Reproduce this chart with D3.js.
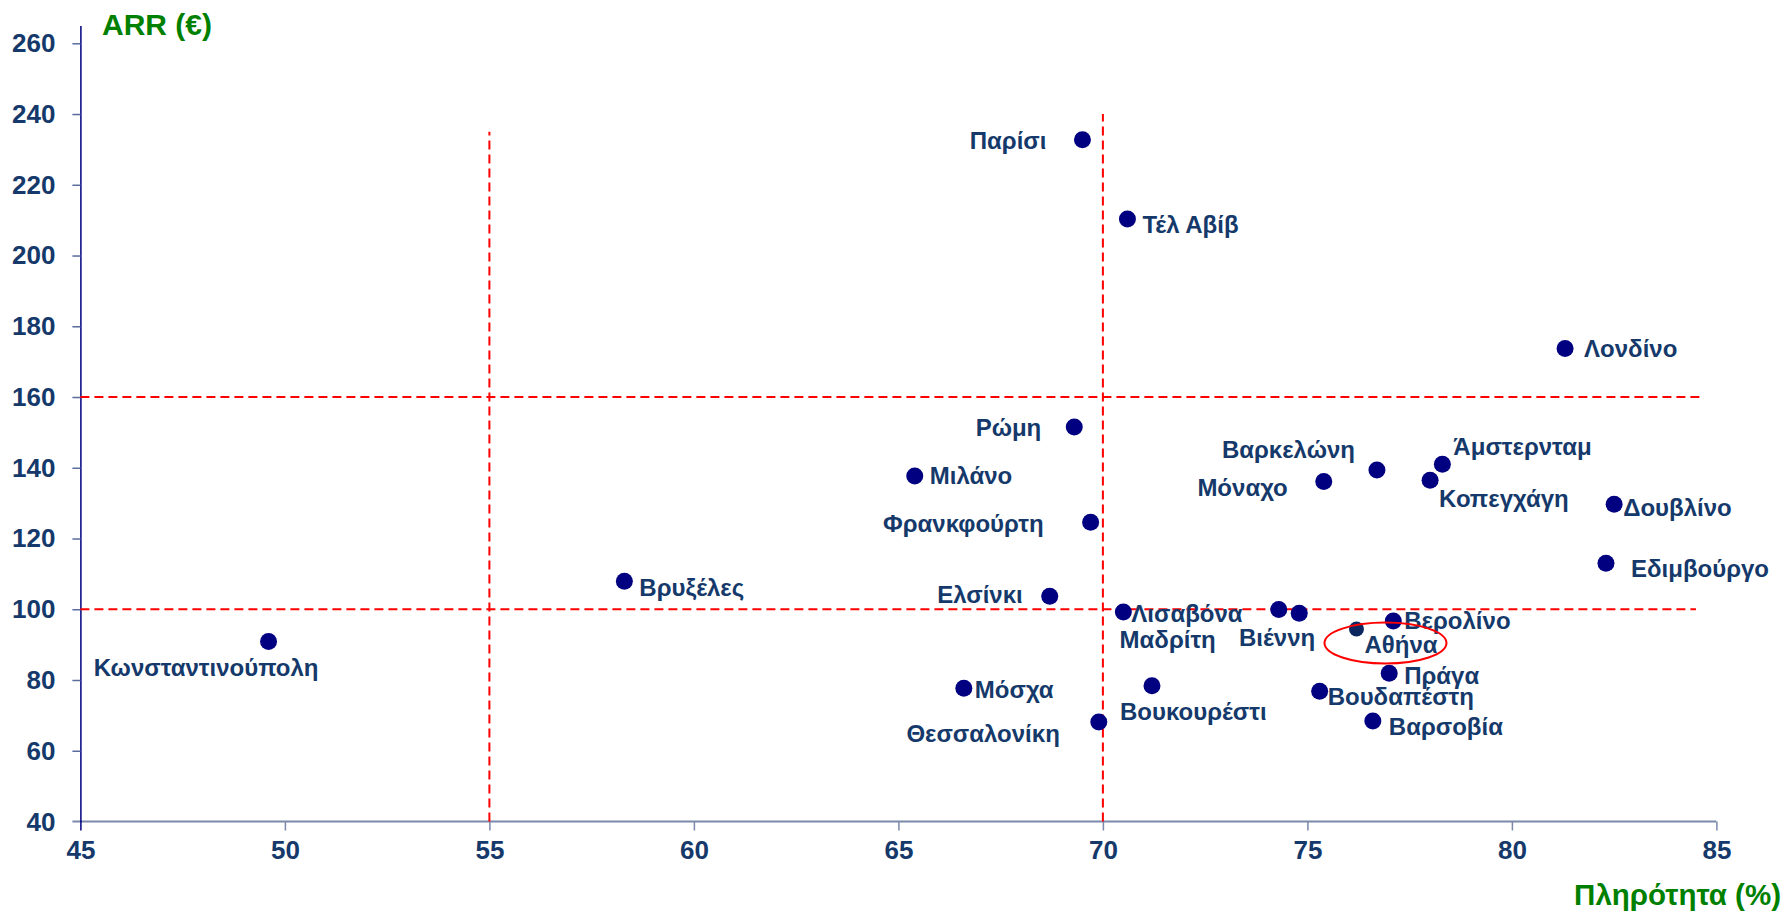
<!DOCTYPE html>
<html>
<head>
<meta charset="utf-8">
<script src="https://cdn.jsdelivr.net/npm/d3@7"></script>
<style>
  html, body { margin: 0; padding: 0; background: #fff; }
  svg { display: block; font-family: "Liberation Sans", Arial, sans-serif; font-weight: bold; }
</style>
</head>
<body>
<svg></svg>
<script>
// data
const cities = ["Παρίσι", "Τέλ Αβίβ", "Λονδίνο", "Ρώμη", "Μιλάνο", "Φρανκφούρτη", "Βρυξέλες",
  "Ελσίνκι", "Λισαβόνα", "Μαδρίτη", "Βιέννη", "Αθήνα", "Βερολίνο", "Πράγα", "Βουδαπέστη",
  "Βαρσοβία", "Μόσχα", "Βουκουρέστι", "Θεσσαλονίκη", "Βαρκελώνη", "Μόναχο", "Άμστερνταμ",
  "Κοπεγχάγη", "Δουβλίνο", "Εδιμβούργο", "Κωνσταντινούπολη"];
const occupancy = [69.5, 70.6, 81.3, 69.3, 65.4, 69.7, 58.3, 68.7, 70.5, 74.3, 74.8, 76.2, 77.1,
  77.0, 75.3, 76.6, 66.6, 71.2, 69.9, 76.7, 75.4, 78.3, 78.0, 82.5, 82.3, 49.6];
const arr = [232.7, 210.3, 173.7, 151.5, 137.7, 124.6, 107.9, 103.7, 99.2, 99.9, 98.9, 94.4, 96.7,
  81.9, 76.8, 68.4, 77.7, 78.4, 68.1, 139.4, 136.1, 141.0, 136.5, 129.7, 113.0, 90.9];

const xTicks = [45, 50, 55, 60, 65, 70, 75, 80, 85];
const yTicks = [40, 60, 80, 100, 120, 140, 160, 180, 200, 220, 240, 260];

// red dashed reference lines: [x1, y1, x2, y2] in data units
const refLines = [
  [55, 40, 55, 235],
  [70, 40, 70, 240],
  [45, 160, 84.7, 160],
  [45, 100, 84.5, 100]
];
const highlight = "Αθήνα";

// label placement next to each marker (px)
const labelPlace = {
  "Παρίσι": ["end", -36, 1], "Τέλ Αβίβ": ["start", 15, 6], "Λονδίνο": ["start", 19, 0],
  "Ρώμη": ["end", -33, 1], "Μιλάνο": ["start", 15, 0], "Φρανκφούρτη": ["end", -47, 1],
  "Βρυξέλες": ["start", 15, 6], "Ελσίνκι": ["end", -27, -2], "Λισαβόνα": ["start", 8, 2],
  "Μαδρίτη": ["end", -63, 30], "Βιέννη": ["end", 16, 24], "Αθήνα": ["start", 8, 16],
  "Βερολίνο": ["start", 11, 0], "Πράγα": ["start", 15, 2], "Βουδαπέστη": ["start", 8, 5],
  "Βαρσοβία": ["start", 16, 6], "Μόσχα": ["start", 11, 1], "Βουκουρέστι": ["start", -32, 26],
  "Θεσσαλονίκη": ["end", -39, 11], "Βαρκελώνη": ["end", -22, -20], "Μόναχο": ["end", -36, 6],
  "Άμστερνταμ": ["start", 11, -18], "Κοπεγχάγη": ["start", 9, 18], "Δουβλίνο": ["start", 9, 3],
  "Εδιμβούργο": ["start", 25, 5], "Κωνσταντινούπολη": ["end", 50, 26]
};

const width = 1784, height = 912;
const svg = d3.select("svg").attr("width", width).attr("height", height);

const xScale = d3.scaleLinear().domain([45, 85]).range([80.4, 1716.4]);
const yScale = d3.scaleLinear().domain([40, 265]).range([821.5, 25.6]);

const navy = "#000080";
const textCol = "#15396a";
const font = "Liberation Sans, Arial, sans-serif";

// x axis
const xAxis = svg.append("g")
  .attr("transform", `translate(0,${yScale(40)})`)
  .call(d3.axisBottom(xScale).tickValues(xTicks).tickSizeInner(9).tickSizeOuter(0).tickPadding(10));
xAxis.select(".domain").attr("stroke", "#7a88aa").attr("stroke-width", 2)
  .attr("d", `M${xScale(45) - 8},0H${xScale(85)}`);
xAxis.selectAll(".tick line").attr("stroke", "#7a88aa").attr("stroke-width", 1.5);
xAxis.selectAll(".tick line").filter(d => d === 45).attr("stroke", navy);
xAxis.selectAll(".tick text").attr("fill", textCol).attr("font-size", 26)
  .attr("font-weight", "bold").attr("font-family", font);

// y axis
const yAxis = svg.append("g")
  .attr("transform", `translate(${xScale(45)},0)`)
  .call(d3.axisLeft(yScale).tickValues(yTicks.slice(1)).tickSizeInner(8).tickSizeOuter(0).tickPadding(17));
yAxis.select(".domain").attr("stroke", navy).attr("stroke-width", 1.5);
yAxis.selectAll(".tick line").attr("stroke", "#5a6c9c").attr("stroke-width", 1.5);
yAxis.selectAll(".tick text").attr("fill", textCol).attr("font-size", 26)
  .attr("font-weight", "bold").attr("font-family", font);
// the 40 label sits on the x axis line
svg.append("text")
  .attr("x", xScale(45) - 25).attr("y", yScale(40)).attr("dy", "0.35em")
  .attr("text-anchor", "end").attr("fill", textCol).attr("font-size", 26)
  .text(yTicks[0]);

// axis titles
svg.append("text").attr("x", 102).attr("y", 35)
  .attr("fill", "#008000").attr("font-size", 30).text("ARR (€)");
svg.append("text").attr("x", 1781).attr("y", 905).attr("text-anchor", "end")
  .attr("fill", "#008000").attr("font-size", 29.5).text("Πληρότητα (%)");

// reference lines
svg.append("g").selectAll("line")
  .data(refLines).enter().append("line")
  .attr("x1", d => xScale(d[0])).attr("y1", d => yScale(d[1]))
  .attr("x2", d => xScale(d[2])).attr("y2", d => yScale(d[3]))
  .attr("stroke", "#ff0000").attr("stroke-width", 2).attr("stroke-dasharray", "9,5");

const points = cities.map((c, i) => ({ city: c, x: occupancy[i], y: arr[i] }));

// markers
svg.append("g").selectAll("circle")
  .data(points).enter().append("circle")
  .attr("cx", d => xScale(d.x)).attr("cy", d => yScale(d.y))
  .attr("r", d => d.city === highlight ? 7.5 : 8.5)
  .attr("fill", d => d.city === highlight ? "#0c2660" : navy);

// labels
svg.append("g").selectAll("text")
  .data(points).enter().append("text")
  .attr("x", d => xScale(d.x) + labelPlace[d.city][1])
  .attr("y", d => yScale(d.y) + labelPlace[d.city][2])
  .attr("dy", "0.35em")
  .attr("text-anchor", d => labelPlace[d.city][0])
  .attr("fill", textCol).attr("font-size", 24)
  .text(d => d.city);

// ellipse round the highlighted city label
const hi = points.find(d => d.city === highlight);
svg.append("ellipse")
  .attr("cx", xScale(hi.x) + 29).attr("cy", yScale(hi.y) + 14)
  .attr("rx", 61).attr("ry", 20.5)
  .attr("fill", "none").attr("stroke", "#ff0000").attr("stroke-width", 2);
</script>
</body>
</html>
